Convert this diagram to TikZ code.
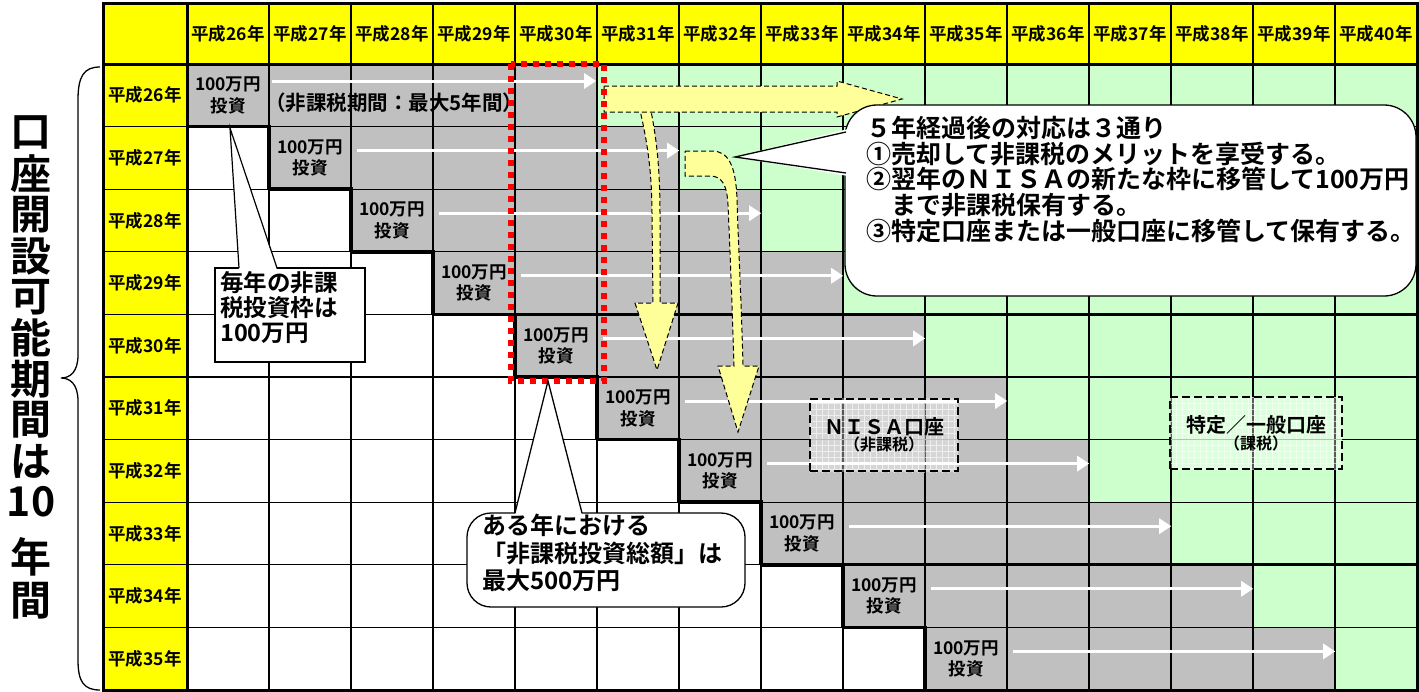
\documentclass[tikz,border=0pt]{standalone}
\usepackage{fontspec}
\setmainfont{Noto Sans CJK JP}[BoldFont={Noto Sans CJK JP Bold}]
\usetikzlibrary{arrows.meta,patterns.meta}
\definecolor{hdyellow}{RGB}{255,255,0}
\definecolor{cellgray}{RGB}{192,192,192}
\definecolor{cellgreen}{RGB}{204,255,204}
\definecolor{arrowyellow}{RGB}{255,255,153}

\begin{document}
\begin{tikzpicture}[x=1pt,y=-1pt,
  gridline/.style={line width=1.2pt},
  frame/.style={line width=3pt},
  stair/.style={line width=3.5pt, line cap=square, line join=miter},
  yearlabel/.style={font=\bfseries\fontsize{17.5}{20}\selectfont, inner sep=0},
  invest/.style={font=\bfseries\fontsize{17.5}{21.5}\selectfont, align=center, inner sep=0,
    minimum width=82pt, minimum height=62.6pt},
  whitearrow/.style={white, line width=3pt, -{Triangle[width=15pt,length=12pt]}},
  yellowarrow/.style={fill=arrowyellow, draw=black, line width=1pt, dash pattern=on 5pt off 3pt},
  accbox/.style={draw, line width=1.2pt, dash pattern=on 8pt off 4pt, align=center,
    minimum width=#1, minimum height=72pt, inner sep=0},
  bigchar/.style={font=\bfseries\fontsize{41}{41}\selectfont, inner sep=0},
  note/.style={font=\bfseries\fontsize{23.5}{25}\selectfont, align=left, inner sep=0, anchor=north west}
]
\useasboundingbox (0,0) rectangle (1419,691);
\fill[white] (0,0) rectangle (1419,691);
%header
\fill[hdyellow] (103,3) rectangle (1417,64);
\fill[hdyellow] (103,64) rectangle (187,690);
%cells
\foreach \r in {0,...,9}{
  \fill[cellgray] ({187+82*\r},{64+62.6*\r}) rectangle ({597+82*\r},{126.6+62.6*\r});
  \fill[cellgreen] ({597+82*\r},{64+62.6*\r}) rectangle (1417,{126.6+62.6*\r});
}
%grid
\foreach \c in {1,...,14} \draw[gridline] ({187+82*\c},3) -- ({187+82*\c},690);
\foreach \r in {1,...,9} \draw[gridline] (103,{64+62.6*\r}) -- (1417,{64+62.6*\r});
\foreach \c in {1,...,14} \draw[line width=2pt] ({187+82*\c},3) -- ({187+82*\c},64);
\draw[frame] (103,3) rectangle (1417,690);
\draw[frame] (103,64) -- (1417,64);
\draw[frame] (187,3) -- (187,690);
\draw[frame] (433,314.4) -- (1417,314.4);
\draw[frame] (761,564.8) -- (1417,564.8);
\foreach \r in {0,...,8} \draw[stair] ({187+82*\r},{126.6+62.6*\r}) -- ++(82,0) -- ++(0,62.6);
%years
\foreach \c in {0,...,14}{
  \pgfmathtruncatemacro{\yr}{26+\c}
  \node[yearlabel] (hd\c) at ({228+82*\c},33.5) {平成\yr{}年};
}
\foreach \r in {0,...,9}{
  \pgfmathtruncatemacro{\yr}{26+\r}
  \node[yearlabel] (rh\r) at (145,{95.3+62.6*\r}) {平成\yr{}年};
  \node[invest] (inv\r) at ({228+82*\r},{95.3+62.6*\r}) {100万円\\投資};
}
\node[font=\bfseries\fontsize{20.5}{22}\selectfont, inner sep=0, anchor=west] (taxfree) at (265,103) {（非課税期間：最大5年間）};
%white arrows
\draw[whitearrow] ([xshift=3pt,yshift=14.3pt]inv0.east) -- ++(324,0);
\foreach \r in {1,...,9} \draw[whitearrow] ([xshift=6pt,yshift=7.3pt]inv\r.east) -- ++(322,0);
%yellow arrows
\draw[yellowarrow] (639,106) .. controls (647,140) and (652,170) .. (652,215) -- (653,303) -- (635,303)
  -- (657,370) -- (678,303) -- (660,303) -- (660,215) .. controls (660,165) and (656,135) .. (650,106) -- cycle;
\draw[yellowarrow] (604,86) -- (837,86) -- (837,81) -- (902,99) -- (837,117) -- (837,112) -- (604,112) -- cycle;
\draw[yellowarrow] (685,151) -- (712,151) .. controls (728,151) and (736,165) .. (737,200)
  .. controls (739,260) and (742,320) .. (743,366) -- (759,366) -- (738,432) -- (718,366) -- (734,366)
  .. controls (732,300) and (730,250) .. (728,205) .. controls (727,185) and (722,176) .. (710,176) -- (685,176) -- cycle;
%five years
\draw[red, line width=6pt, dash pattern=on 6pt off 6pt] (511,64) rectangle (604,381);
%accounts
\fill[white, opacity=0.35] (810,398) rectangle (958,472);
\fill[pattern={Hatch[distance=6pt,line width=0.6pt]}, pattern color=white, opacity=0.6] (810,398) rectangle (958,472);
\node[accbox=148pt] (nisa) at (884,435) {{\fontsize{20}{23}\selectfont\bfseries ＮＩＳＡ口座}\\{\fontsize{16}{17}\selectfont\bfseries （非課税）}};
\fill[white, opacity=0.35] (1170,397) rectangle (1342,469);
\fill[pattern={Hatch[distance=6pt,line width=0.6pt]}, pattern color=white, opacity=0.6] (1170,397) rectangle (1342,469);
\node[accbox=172pt] (tokutei) at (1256,433) {{\fontsize{20}{23}\selectfont\bfseries 特定／一般口座}\\{\fontsize{16}{17}\selectfont\bfseries （課税）}};
%callouts
\draw[fill=white, line width=1.3pt, rounded corners=32] (845,105) rectangle (1416,296);
\fill[white] (735,157) -- (848,129) -- (848,176) -- cycle;
\draw[line width=1.3pt] (846,132) -- (735,157) -- (846,173);
\node[note, font=\bfseries\fontsize{25}{25.7}\selectfont] (after) at (866,116)
  {５年経過後の対応は３通り\\①売却して非課税のメリットを享受する。\\②翌年のＮＩＳＡの新たな枠に移管して100万円\\　まで非課税保有する。\\③特定口座または一般口座に移管して保有する。};
\draw[fill=white, line width=1.2pt] (215,268) rectangle (365,362);
\fill[white] (239,270) -- (230,128) -- (277,270) -- cycle;
\draw[line width=1.2pt] (239,268) -- (230,128) -- (277,268);
\node[note] (yearly) at (220,271) {毎年の非課\\税投資枠は\\100万円};
\draw[fill=white, line width=1.3pt, rounded corners=24] (467,513) rectangle (745,607);
\fill[white] (515,515) -- (548,381) -- (582,515) -- cycle;
\draw[line width=1.3pt] (515,513) -- (548,381) -- (582,513);
\node[note, font=\bfseries\fontsize{24}{27.5}\selectfont] (total) at (482,514)
  {ある年における\\「非課税投資総額」は\\最大500万円};
%period
\foreach \ch [count=\k from 0] in {口,座,開,設,可,能,期,間,は,10}
  \node[bigchar] (tt\k) at (31,{133+41*\k}) {\ch};
\node[bigchar] (tt10) at (31,557) {年};
\node[bigchar] (tt11) at (31,601) {間};
\draw[line width=1.3pt] (100,67) .. controls (84,67) and (78,76) .. (78,100) -- (78,355)
  .. controls (78,372) and (70,378) .. (61,378) .. controls (70,378) and (78,384) .. (78,401)
  -- (78,660) .. controls (78,682) and (84,690) .. (100,690);
\end{tikzpicture}
\end{document}
